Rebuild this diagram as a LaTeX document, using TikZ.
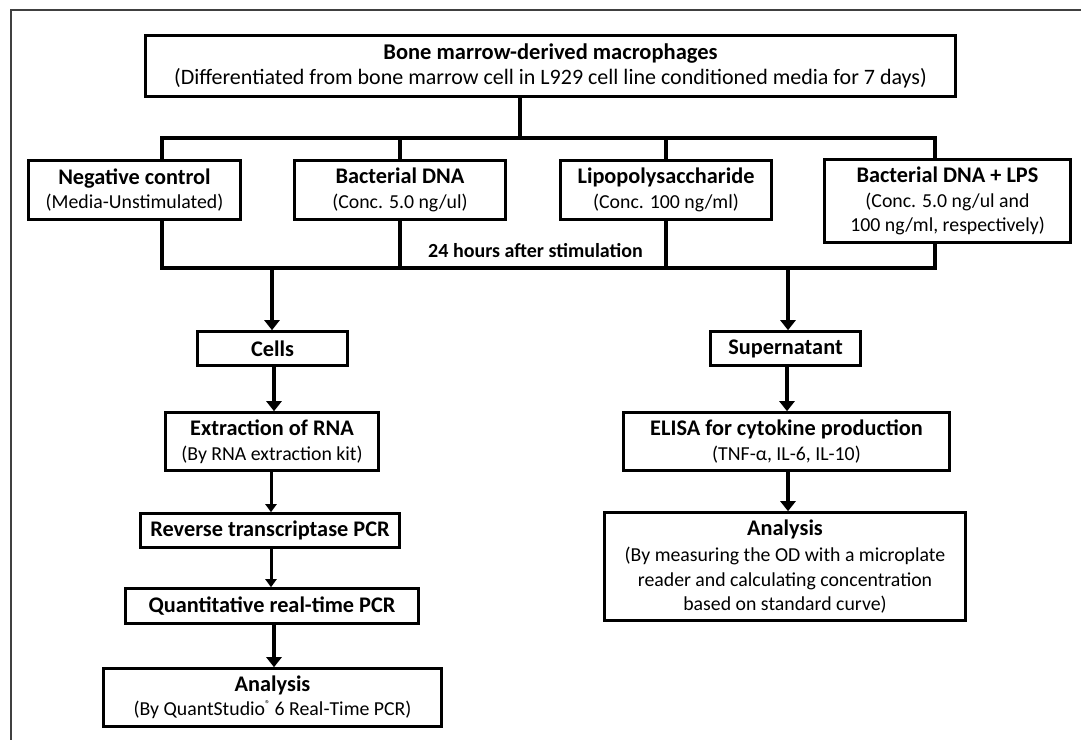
\documentclass[tikz,border=0pt]{standalone}
\usepackage{fontspec}
\usepackage{graphicx}
\setmainfont{Carlito}
\usetikzlibrary{arrows.meta}
\newcommand\mytitle{\fontsize{22.3}{24.5}\selectfont\bfseries}
\newcommand\mysub{\fontsize{19.8}{24.5}\selectfont\mdseries}
\newcommand\regmark{\raisebox{0.45em}{\fontsize{10}{10}\selectfont ®}}
\tikzset{
  box/.style={draw, line width=2.6pt, align=center, inner sep=0pt, font=\mytitle},
  bar/.style={line width=4.6pt, line join=miter},
  thickarrow/.style={line width=4.6pt, -{Triangle[width=15pt,length=10pt]}},
  thinarrow/.style={line width=3pt, -{Triangle[width=11pt,length=8pt]}},
}
\begin{document}
\begin{tikzpicture}[x=1pt,y=-1pt]
\useasboundingbox (0,0) rectangle (1081,740);
\fill[white] (0,0) rectangle (1081,740);
% page frame
\draw[line width=1.6pt, black!75] (1081,10) -- (11,10) -- (11,740);

% boxes
\node[box, minimum width=810, minimum height=61] (top) at (550.5,66)
  {\fontsize{22.5}{27}\selectfont Bone marrow-derived macrophages\\
   \fontsize{22}{27}\selectfont\mdseries (Differentiated from bone marrow cell in L929 cell line conditioned media for 7 days)};
\node[box, minimum width=212, minimum height=59] (neg) at (134.5,190)
  {Negative control\\\mysub (Media-Unstimulated)};
\node[box, minimum width=211, minimum height=59] (bact) at (400,190)
  {Bacterial DNA\\\mysub (Conc. 5.0 ng/ul)};
\node[box, minimum width=211, minimum height=59] (lipo) at (666,190)
  {Lipopolysaccharide\\\mysub (Conc. 100 ng/ml)};
\node[box, minimum width=246, minimum height=83] (combo) at (947.5,201)
  {Bacterial DNA + LPS\\\mysub (Conc. 5.0 ng/ul and\\\mysub 100 ng/ml, respectively)};
\node[font=\fontsize{20}{22}\selectfont\bfseries] (hours) at (535.5,251) {24 hours after stimulation};

\node[box, minimum width=150, minimum height=34] (cells) at (272.5,348.5) {Cells};
\node[box, minimum width=213, minimum height=58] (extract) at (272,441.5)
  {Extraction of RNA\\\mysub (By RNA extraction kit)};
\node[box, minimum width=259, minimum height=34] (rt) at (270,530.5) {Reverse transcriptase PCR};
\node[box, minimum width=293, minimum height=35] (quant) at (272,606) {Quantitative real-time PCR};
\node[box, minimum width=338, minimum height=58] (anaL) at (272.5,697.5)
  {Analysis\\\mysub (By QuantStudio\regmark\ 6 Real-Time PCR)};

\node[box, minimum width=150, minimum height=34] (super) at (785.5,348.5) {Supernatant};
\node[box, minimum width=326, minimum height=58] (elisa) at (786.5,441.5)
  {ELISA for cytokine production\\\mysub (TNF-α, IL-6, IL-10)};
\node[box, minimum width=361, minimum height=108] (anaR) at (785,566.5)
  {Analysis\\[2pt]\mysub (By measuring the OD with a microplate\\\mysub reader and calculating concentration\\\mysub based on standard curve)};

% junction coordinates
\coordinate (stem) at (520,138);
\coordinate (tL) at (162,138);
\coordinate (tR) at (935,138);
\coordinate (bL) at (162,268);
\coordinate (bR) at (935,268);
\coordinate (aL) at (272,268);
\coordinate (aR) at (788,268);
\coordinate (xL1) at (274,0);
\coordinate (xL2) at (271,0);
\coordinate (xR1) at (787,0);
\coordinate (xR2) at (788,0);

% top distribution bar
\draw[bar] (top.south -| stem) -- (stem);
\draw[bar] (neg.north -| tL) -- (tL) -- (tR) -- (combo.north -| tR);
\draw[bar] (bact.north) -- (bact.north |- tL);
\draw[bar] (lipo.north) -- (lipo.north |- tL);

% bottom collection bar
\draw[bar] (neg.south -| bL) -- (bL) -- (bR) -- (combo.south -| bR);
\draw[bar] (bact.south) -- (bact.south |- bL);
\draw[bar] (lipo.south) -- (lipo.south |- bL);

% arrows
\draw[thickarrow] (aL) -- (cells.north -| aL);
\draw[thickarrow] (aR) -- (super.north -| aR);
\draw[thickarrow] (cells.south -| xL1) -- (extract.north -| xL1);
\draw[thinarrow] (extract.south -| xL2) -- (rt.north -| xL2);
\draw[thinarrow] (rt.south -| xL2) -- (quant.north -| xL2);
\draw[thickarrow] (quant.south -| xL1) -- (anaL.north -| xL1);
\draw[thickarrow] (super.south -| xR1) -- (elisa.north -| xR1);
\draw[thickarrow] (elisa.south -| xR2) -- (anaR.north -| xR2);
\end{tikzpicture}
\end{document}
